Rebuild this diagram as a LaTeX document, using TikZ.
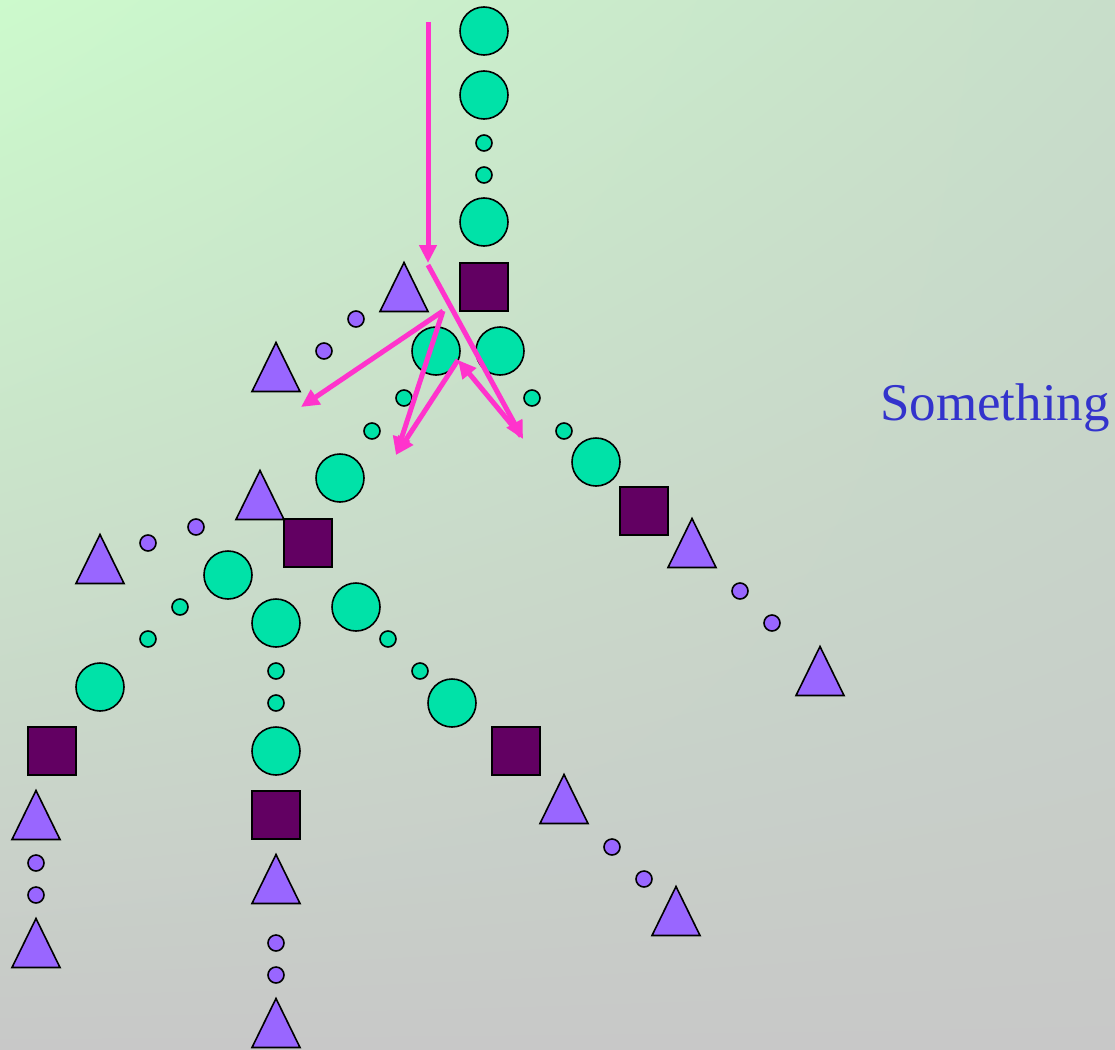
\documentclass[tikz,border=0pt]{standalone}
\usepackage{fontspec}
\setmainfont{Liberation Serif}
\usetikzlibrary{arrows.meta,shadings,calc}
\definecolor{bgA}{RGB}{204,250,204}
\definecolor{bgB}{RGB}{200,222,202}
\definecolor{bgC}{RGB}{200,200,200}
\definecolor{teal}{RGB}{0,226,168}
\definecolor{plum}{RGB}{98,0,98}
\definecolor{lilac}{RGB}{153,102,255}
\definecolor{pinkarrow}{RGB}{255,51,204}
\definecolor{textblue}{RGB}{51,51,204}
\tikzset{
  outl/.style={draw=black,line width=1.6pt},
  bigc/.style={outl,circle,fill=teal,minimum size=48pt,inner sep=0pt},
  smg/.style={outl,circle,fill=teal,minimum size=16pt,inner sep=0pt},
  smp/.style={outl,circle,fill=lilac,minimum size=16pt,inner sep=0pt},
  sq/.style={outl,rectangle,fill=plum,minimum size=48pt,inner sep=0pt},
  tri/.style={outl,fill=lilac,line join=miter},
  arr/.style={draw=pinkarrow,line width=5pt,-{Triangle[length=18pt,width=17pt]}}
}
\newcommand\mytri[3]{%
  \coordinate (#1) at (#2,#3);
  \draw[tri] ($(#1)+(-24,24.5)$) -- ($(#1)+(0,-24.5)$) -- ($(#1)+(24,24.5)$) -- cycle;}
\begin{document}
\begin{tikzpicture}[x=1pt,y=-1pt]
\shade[upper left=bgA,upper right=bgB,lower left=bgC,lower right=bgC] (0,0) rectangle (1115,1049);
\useasboundingbox (0,0) rectangle (1115,1049);
% big green circles
\node[bigc] (g1) at (484,31) {};
\node[bigc] (g2) at (484,95) {};
\node[bigc] (g3) at (484,222) {};
\node[bigc] (g4) at (436,351) {};
\node[bigc] (g5) at (500,351) {};
\node[bigc] (g6) at (340,478) {};
\node[bigc] (g7) at (596,462) {};
\node[bigc] (g8) at (228,575) {};
\node[bigc] (g9) at (276,623) {};
\node[bigc] (g10) at (356,607) {};
\node[bigc] (g11) at (100,687) {};
\node[bigc] (g12) at (276,751) {};
\node[bigc] (g13) at (452,703) {};
% small green circles
\node[smg] (s1) at (484,143) {};
\node[smg] (s2) at (484,175) {};
\node[smg] (s3) at (404,398) {};
\node[smg] (s4) at (372,431) {};
\node[smg] (s5) at (532,398) {};
\node[smg] (s6) at (564,431) {};
\node[smg] (s7) at (180,607) {};
\node[smg] (s8) at (148,639) {};
\node[smg] (s9) at (276,671) {};
\node[smg] (s10) at (276,703) {};
\node[smg] (s11) at (388,639) {};
\node[smg] (s12) at (420,671) {};
% small purple circles
\node[smp] (p1) at (356,319) {};
\node[smp] (p2) at (324,351) {};
\node[smp] (p3) at (740,591) {};
\node[smp] (p4) at (772,623) {};
\node[smp] (p5) at (196,527) {};
\node[smp] (p6) at (148,543) {};
\node[smp] (p7) at (36,863) {};
\node[smp] (p8) at (36,895) {};
\node[smp] (p9) at (276,943) {};
\node[smp] (p10) at (276,975) {};
\node[smp] (p11) at (612,847) {};
\node[smp] (p12) at (644,879) {};
% squares
\node[sq] (q1) at (484,287) {};
\node[sq] (q2) at (308,543) {};
\node[sq] (q3) at (644,511) {};
\node[sq] (q4) at (52,751) {};
\node[sq] (q5) at (276,815) {};
\node[sq] (q6) at (516,751) {};
% triangles
\mytri{t1}{404}{287}
\mytri{t2}{276}{367}
\mytri{t3}{260}{495}
\mytri{t4}{100}{559}
\mytri{t5}{692}{543}
\mytri{t6}{820}{671}
\mytri{t7}{36}{815}
\mytri{t8}{36}{943}
\mytri{t9}{276}{879}
\mytri{t10}{276}{1023}
\mytri{t11}{564}{799}
\mytri{t12}{676}{911}
% arrows
\coordinate (a0) at (428,22);
\coordinate (a1) at (428,263);
\coordinate (a1b) at (428,265);
\coordinate (a2) at (523,439);
\coordinate (a3) at (443,311);
\coordinate (a4) at (301,407);
\coordinate (a5) at (396,455);
\coordinate (a6) at (458,360);
\coordinate (a7) at (521,436);
\draw[arr] (a0) -- (a1);
\draw[arr] (a1b) -- (a2);
\draw[arr] (a3) -- (a4);
\draw[arr] (a3) -- (a5);
\draw[arr] (a7) -- (a6);
\draw[arr] (a6) -- (a5);
% label
\node[anchor=base west,inner sep=0pt,text=textblue,font=\fontsize{53}{60}\selectfont] (lbl) at (880,420) {Something};
\end{tikzpicture}
\end{document}
